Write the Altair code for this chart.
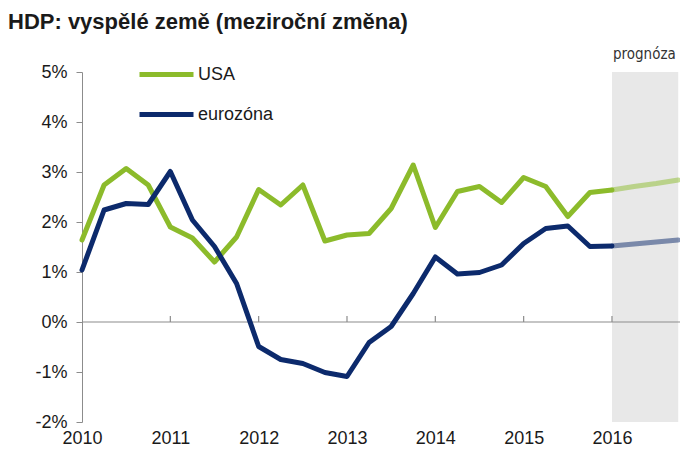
import altair as alt
import pandas as pd

# quarterly time axis (year fractions)
quarters = [2010 + i * 0.25 for i in range(28)]  # 2010.00 ... 2016.75

usa = [1.64, 2.74, 3.07, 2.74, 1.90, 1.68, 1.20, 1.70,
       2.65, 2.34, 2.74, 1.62, 1.74, 1.77, 2.27, 3.14,
       1.89, 2.61, 2.71, 2.39, 2.89, 2.71, 2.11, 2.59,
       2.64, 2.71, 2.77, 2.84]
ez = [1.04, 2.24, 2.37, 2.35, 3.01, 2.04, 1.51, 0.77,
      -0.49, -0.75, -0.83, -1.01, -1.09, -0.41, -0.09, 0.57,
      1.30, 0.96, 0.99, 1.14, 1.57, 1.87, 1.92, 1.51,
      1.52, 1.56, 1.60, 1.64]
series_names = ["USA", "eurozóna"]
forecast_start = 2016.0
forecast_end = 2016.75
years = [2010, 2011, 2012, 2013, 2014, 2015, 2016]
tick_years = [2011, 2012, 2013, 2014, 2015, 2016]

rows = []
for name, vals in zip(series_names, [usa, ez]):
    for t, v in zip(quarters, vals):
        if t <= forecast_start:
            rows.append({"t": t, "v": v, "series": name, "part": "hist"})
        if t >= forecast_start:
            rows.append({"t": t, "v": v, "series": name, "part": "fc"})
df = pd.DataFrame(rows)

FONT = "Liberation Sans"
xscale = alt.Scale(domain=[2010, 2016.77], nice=False, zero=False)
yscale = alt.Scale(domain=[-2, 5], nice=False)

shade = alt.Chart(pd.DataFrame({"a": [forecast_start], "b": [forecast_end], "lo": [-2], "hi": [5]})).mark_rect(
    color="#e8e8e8"
).encode(
    x=alt.X("a:Q", scale=xscale, axis=alt.Axis(
        values=years, format="d", title=None, domain=False, ticks=False, grid=False,
        labelFontSize=18, labelFont=FONT, labelColor="#1a1a1a", labelPadding=7,
        labelFlush=False)),
    x2="b:Q",
    y=alt.Y("lo:Q", scale=yscale, axis=alt.Axis(
        values=[-2, -1, 0, 1, 2, 3, 4, 5], labelExpr="datum.value + '%'", title=None,
        grid=False, domainColor="#8c8c8c", tickColor="#8c8c8c", tickSize=6,
        labelFontSize=18, labelFont=FONT, labelColor="#1a1a1a", labelPadding=9)),
    y2="hi:Q",
)

zero = alt.Chart(pd.DataFrame({"a": [2010], "b": [2016.77], "y": [0]})).mark_rule(
    color="#8c8c8c", strokeWidth=1.2
).encode(x="a:Q", x2="b:Q", y="y:Q")

ticks = alt.Chart(pd.DataFrame({"t": tick_years, "y": [0] * 6, "y2": [0.12] * 6})).mark_rule(
    color="#8c8c8c", strokeWidth=1.2
).encode(x="t:Q", y="y:Q", y2="y2:Q")

prog = alt.Chart(pd.DataFrame({"t": [forecast_start], "y": [5.0], "label": ["prognóza"]})).mark_text(
    align="left", baseline="bottom", dy=-10, dx=1, fontSize=15,
    font="DejaVu Sans Condensed, Liberation Sans", color="#333333"
).encode(x="t:Q", y="y:Q", text="label:N")

lines = alt.Chart(df).mark_line(strokeWidth=5, strokeJoin="round", strokeCap="round").encode(
    x="t:Q",
    y="v:Q",
    color=alt.Color("series:N", scale=alt.Scale(domain=series_names, range=["#8cbb2b", "#0c2a6c"]),
                    legend=alt.Legend(orient="none", legendX=55, legendY=-27, title=None,
                                      symbolType="stroke", symbolSize=2916, symbolStrokeWidth=5,
                                      labelFontSize=18, labelFont=FONT, labelColor="#1a1a1a",
                                      labelOffset=2, rowPadding=-12, padding=0)),
    opacity=alt.Opacity("part:N", scale=alt.Scale(domain=["hist", "fc"], range=[1.0, 0.5]), legend=None),
    detail="part:N",
    order=alt.Order("t:Q"),
)

chart = alt.layer(shade, zero, ticks, lines, prog).properties(
    width=598, height=350,
    title=alt.TitleParams("HDP: vyspělé země (meziroční změna)", anchor="start", frame="group", fontSize=22,
                          font=FONT, fontWeight="bold", color="#1a1a1a", dx=-74, offset=11),
    autosize=alt.AutoSizeParams(type="none"),
    padding={"left": 74, "top": 64, "right": 0, "bottom": 27},
).configure_view(stroke=None)

chart.save("out.html", embed_options={"renderer": "svg", "actions": False})
